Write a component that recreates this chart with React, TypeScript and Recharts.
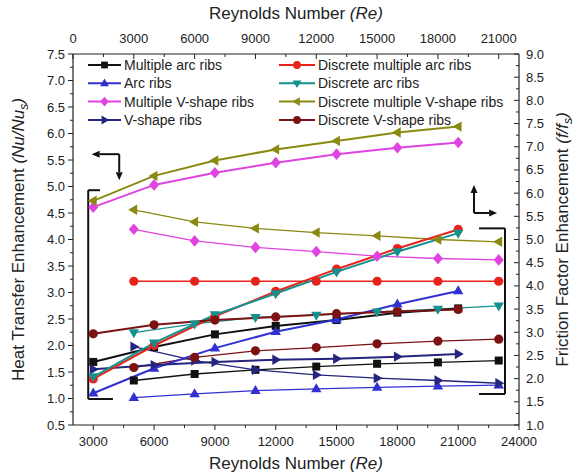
import React from "react";
import { LineChart, Line, XAxis, YAxis, ReferenceLine, Customized } from "recharts";

// Reynolds numbers: heat transfer on bottom axis, friction on top axis
const reHeat = [3000, 6000, 9000, 12000, 15000, 18000, 21000];
const reFric = [3000, 6000, 9000, 12000, 15000, 18000, 21000];

// Nu/Nus (left axis)
const multipleArcNu = [1.69, 1.97, 2.21, 2.37, 2.48, 2.62, 2.7];
const arcNu = [1.1, 1.57, 1.95, 2.26, 2.49, 2.78, 3.03];
const multipleVNu = [4.61, 5.03, 5.26, 5.45, 5.61, 5.73, 5.83];
const vShapeNu = [1.55, 1.63, 1.69, 1.73, 1.75, 1.79, 1.84];
const discMultArcNu = [1.37, 2.0, 2.55, 3.02, 3.44, 3.83, 4.19];
const discArcNu = [1.41, 2.05, 2.58, 2.98, 3.39, 3.77, 4.12];
const discMultVNu = [4.73, 5.2, 5.49, 5.7, 5.86, 6.02, 6.13];
const discVNu = [2.22, 2.39, 2.48, 2.54, 2.6, 2.64, 2.68];

// f/fs (right axis)
const multipleArcF = [1.96, 2.1, 2.19, 2.26, 2.32, 2.35, 2.39];
const arcF = [1.59, 1.67, 1.74, 1.78, 1.81, 1.84, 1.86];
const multipleVF = [5.22, 4.97, 4.83, 4.74, 4.64, 4.59, 4.56];
const vShapeF = [2.69, 2.39, 2.19, 2.08, 2.01, 1.96, 1.9];
const discMultArcF = [4.1, 4.1, 4.1, 4.1, 4.1, 4.1, 4.1];
const discArcF = [2.99, 3.18, 3.32, 3.37, 3.44, 3.5, 3.57];
const discMultVF = [5.64, 5.38, 5.24, 5.15, 5.08, 5.0, 4.95];
const discVF = [2.24, 2.46, 2.6, 2.67, 2.75, 2.81, 2.85];

// tick labels
const leftMajor = [0.5, 1, 1.5, 2, 2.5, 3, 3.5, 4, 4.5, 5, 5.5, 6, 6.5, 7, 7.5];
const rightMajor = [1, 1.5, 2, 2.5, 3, 3.5, 4, 4.5, 5, 5.5, 6, 6.5, 7, 7.5, 8, 8.5, 9];
const bottomMajor = [3000, 6000, 9000, 12000, 15000, 18000, 21000, 24000];
const topMajor = [0, 3000, 6000, 9000, 12000, 15000, 18000, 21000];

const series = [
  { name: "Multiple arc ribs", color: "#111111", shape: "square", nu: multipleArcNu, f: multipleArcF },
  { name: "Arc ribs", color: "#3131d2", shape: "up", nu: arcNu, f: arcF },
  { name: "Multiple V-shape ribs", color: "#e044e0", shape: "diamond", nu: multipleVNu, f: multipleVF },
  { name: "V-shape ribs", color: "#25257f", shape: "right", nu: vShapeNu, f: vShapeF },
  { name: "Discrete multiple arc ribs", color: "#e8231c", shape: "circle", nu: discMultArcNu, f: discMultArcF },
  { name: "Discrete arc ribs", color: "#14908e", shape: "down", nu: discArcNu, f: discArcF },
  { name: "Discrete multiple V-shape ribs", color: "#8a8a12", shape: "left", nu: discMultVNu, f: discMultVF },
  { name: "Discrete V-shape ribs", color: "#7c1212", shape: "circle", nu: discVNu, f: discVF },
];

// plot box
const W = 579;
const H = 475;
const LEFT = 73;
const RIGHT = 519;
const TOP = 54;
const BOTTOM = 425;
const FONT = "'Liberation Sans', Arial, sans-serif";

const addMinor = (majors: number[]) =>
  majors.flatMap((m, i) => (i < majors.length - 1 ? [m, (m + majors[i + 1]) / 2] : [m]));

const isIn = (arr: number[], v: number) => arr.some((m) => Math.abs(m - v) < 1e-6);

const Marker = ({ cx, cy, shape, color, s = 1 }: any) => {
  if (cx == null || cy == null) return null;
  const k = s;
  if (shape === "square")
    return <rect x={cx - 4 * k} y={cy - 4 * k} width={8 * k} height={8 * k} fill={color} />;
  if (shape === "circle") return <circle cx={cx} cy={cy} r={4.6 * k} fill={color} />;
  const pts: Record<string, number[][]> = {
    up: [[0, -5.6], [5.2, 3.4], [-5.2, 3.4]],
    down: [[0, 5.6], [5.2, -3.4], [-5.2, -3.4]],
    left: [[-5.6, 0], [3.4, -5.2], [3.4, 5.2]],
    right: [[5.6, 0], [-3.4, -5.2], [-3.4, 5.2]],
    diamond: [[0, -5.8], [5, 0], [0, 5.8], [-5, 0]],
  };
  const p = pts[shape].map(([dx, dy]) => `${cx + dx * k},${cy + dy * k}`).join(" ");
  return <polygon points={p} fill={color} />;
};

const LeftTick = ({ payload }: any) => {
  const y = payload.coordinate;
  const major = isIn(leftMajor, payload.value);
  return (
    <g>
      <line x1={LEFT - (major ? 5 : 3)} x2={LEFT} y1={y} y2={y} stroke="#222" strokeWidth={1} />
      {major && (
        <text x={LEFT - 8} y={y + 4.5} textAnchor="end" fontSize={13} fontFamily={FONT} fill="#222">
          {payload.value.toFixed(1)}
        </text>
      )}
    </g>
  );
};

const RightTick = ({ payload }: any) => {
  const y = payload.coordinate;
  const major = isIn(rightMajor, payload.value);
  return (
    <g>
      <line x1={RIGHT - (major ? 5 : 3)} x2={RIGHT} y1={y} y2={y} stroke="#222" strokeWidth={1} />
      {major && (
        <text x={RIGHT + 7} y={y + 4.5} textAnchor="start" fontSize={13} fontFamily={FONT} fill="#222">
          {payload.value.toFixed(1)}
        </text>
      )}
    </g>
  );
};

const BottomTick = ({ payload }: any) => {
  const x = payload.coordinate;
  const major = isIn(bottomMajor, payload.value);
  return (
    <g>
      <line x1={x} x2={x} y1={BOTTOM} y2={BOTTOM + (major ? 5 : 3)} stroke="#222" strokeWidth={1} />
      {major && (
        <text x={x} y={BOTTOM + 21} textAnchor="middle" fontSize={13} fontFamily={FONT} fill="#222">
          {payload.value}
        </text>
      )}
    </g>
  );
};

const TopTick = ({ payload }: any) => {
  const x = payload.coordinate;
  const major = isIn(topMajor, payload.value);
  return (
    <g>
      <line x1={x} x2={x} y1={TOP} y2={TOP + (major ? 5 : 3)} stroke="#222" strokeWidth={1} />
      {major && (
        <text x={x} y={TOP - 11} textAnchor="middle" fontSize={13} fontFamily={FONT} fill="#222">
          {payload.value}
        </text>
      )}
    </g>
  );
};

// line with an arrow head at (x2, y2)
const arrowShape = (props: any) => {
  const { x1, y1, x2, y2 } = props;
  const a = Math.atan2(y2 - y1, x2 - x1);
  const L = 8;
  const w = 3.5;
  const bx = x2 - L * Math.cos(a);
  const by = y2 - L * Math.sin(a);
  const p1 = `${bx + w * Math.sin(a)},${by - w * Math.cos(a)}`;
  const p2 = `${bx - w * Math.sin(a)},${by + w * Math.cos(a)}`;
  return (
    <g>
      <line x1={x1} y1={y1} x2={bx} y2={by} stroke="#111" strokeWidth={2} />
      <polygon points={`${x2},${y2} ${p1} ${p2}`} fill="#111" />
    </g>
  );
};

// brackets and arrows (bottom x / left y units)
const brackets = [
  [[2750, 4.93], [2750, 0.99]],
  [[2750, 4.93], [3330, 4.93]],
  [[2750, 0.99], [3970, 0.99]],
  [[23310, 4.21], [23310, 1.085]],
  [[22030, 4.21], [23310, 4.21]],
  [[22030, 1.085], [23310, 1.085]],
];
const arrows = [
  [[4280, 5.61], [2920, 5.61]],
  [[4280, 5.61], [4280, 5.12]],
  [[21780, 4.5], [21780, 5.03]],
  [[21780, 4.5], [22920, 4.5]],
];

const Overlay = () => {
  const col1 = series.slice(0, 4);
  const col2 = series.slice(4);
  const rowY = [65, 83.3, 101.6, 120];
  const legendCol = (items: typeof series, x0: number, x1: number) =>
    items.map((s, i) => (
      <g key={s.name}>
        <line x1={x0} x2={x1} y1={rowY[i]} y2={rowY[i]} stroke={s.color} strokeWidth={2} />
        <Marker cx={(x0 + x1) / 2} cy={rowY[i]} shape={s.shape} color={s.color} s={0.85} />
        <text x={x1 + 3} y={rowY[i] + 5} fontSize={14} fontFamily={FONT} fill="#222">
          {s.name}
        </text>
      </g>
    ));
  return (
    <g>
      {legendCol(col1, 88, 121)}
      {legendCol(col2, 279, 315)}
      <text x={(LEFT + RIGHT) / 2} y={19} textAnchor="middle" fontSize={17} fontFamily={FONT} fill="#222">
        Reynolds Number <tspan fontStyle="italic">(Re)</tspan>
      </text>
      <text x={(LEFT + RIGHT) / 2} y={469} textAnchor="middle" fontSize={17} fontFamily={FONT} fill="#222">
        Reynolds Number <tspan fontStyle="italic">(Re)</tspan>
      </text>
      <text
        transform={`translate(24, ${(TOP + BOTTOM) / 2}) rotate(-90)`}
        textAnchor="middle"
        fontSize={17}
        fontFamily={FONT}
        fill="#222"
      >
        Heat Transfer Enhancement <tspan fontStyle="italic">(Nu/Nu</tspan>
        <tspan fontStyle="italic" fontSize={12} dy={4}>s</tspan>
        <tspan fontStyle="italic" dy={-4}>)</tspan>
      </text>
      <text
        transform={`translate(568, ${(TOP + BOTTOM) / 2}) rotate(-90)`}
        textAnchor="middle"
        fontSize={17}
        fontFamily={FONT}
        fill="#222"
      >
        Friction Factor Enhancement <tspan fontStyle="italic">(f/f</tspan>
        <tspan fontStyle="italic" fontSize={12} dy={4}>s</tspan>
        <tspan fontStyle="italic" dy={-4}>)</tspan>
      </text>
    </g>
  );
};

const App = () => {
  return (
    <div style={{ position: "absolute", left: 0, top: 0, width: W, height: H, background: "#fff" }}>
      <LineChart width={W} height={H} margin={{ top: 0, right: 0, bottom: 0, left: 0 }}>
        <XAxis
          xAxisId="b"
          type="number"
          dataKey="re"
          domain={[2000, 24000]}
          ticks={[...addMinor(bottomMajor)]}
          interval={0}
          height={H - BOTTOM}
          tick={<BottomTick />}
          tickLine={false}
          axisLine={{ stroke: "#222", strokeWidth: 1.2 }}
        />
        <XAxis
          xAxisId="t"
          orientation="top"
          type="number"
          dataKey="re"
          domain={[0, 22000]}
          ticks={addMinor(topMajor)}
          interval={0}
          height={TOP}
          tick={<TopTick />}
          tickLine={false}
          axisLine={{ stroke: "#222", strokeWidth: 1.2 }}
        />
        <YAxis
          yAxisId="l"
          type="number"
          domain={[0.5, 7.5]}
          ticks={addMinor(leftMajor)}
          interval={0}
          width={LEFT}
          tick={<LeftTick />}
          tickLine={false}
          axisLine={{ stroke: "#222", strokeWidth: 1.2 }}
        />
        <YAxis
          yAxisId="r"
          orientation="right"
          type="number"
          domain={[1, 9]}
          ticks={addMinor(rightMajor)}
          interval={0}
          width={W - RIGHT}
          tick={<RightTick />}
          tickLine={false}
          axisLine={{ stroke: "#222", strokeWidth: 1.2 }}
        />

        {brackets.map((seg, i) => (
          <ReferenceLine
            key={"br" + i}
            xAxisId="b"
            yAxisId="l"
            segment={seg.map(([x, y]) => ({ x, y }))}
            stroke="#111"
            strokeWidth={2}
          />
        ))}
        {arrows.map((seg, i) => (
          <ReferenceLine
            key={"ar" + i}
            xAxisId="b"
            yAxisId="l"
            segment={seg.map(([x, y]) => ({ x, y }))}
            shape={arrowShape}
          />
        ))}

        {/* friction factor, top / right axes */}
        {series.map((s) => (
          <Line
            key={"f" + s.name}
            data={reFric.map((re, i) => ({ re, v: s.f[i] }))}
            dataKey="v"
            xAxisId="t"
            yAxisId="r"
            stroke={s.color}
            strokeWidth={1.3}
            dot={(p: any) => <Marker key={p.index} cx={p.cx} cy={p.cy} shape={s.shape} color={s.color} />}
            activeDot={false}
            legendType="none"
            isAnimationActive={false}
          />
        ))}

        {/* heat transfer, bottom / left axes */}
        {series.map((s) => (
          <Line
            key={"n" + s.name}
            data={reHeat.map((re, i) => ({ re, v: s.nu[i] }))}
            dataKey="v"
            xAxisId="b"
            yAxisId="l"
            stroke={s.color}
            strokeWidth={2}
            dot={(p: any) => <Marker key={p.index} cx={p.cx} cy={p.cy} shape={s.shape} color={s.color} />}
            activeDot={false}
            legendType="none"
            isAnimationActive={false}
          />
        ))}

        <Customized component={Overlay} />
      </LineChart>
    </div>
  );
};

export default App;
